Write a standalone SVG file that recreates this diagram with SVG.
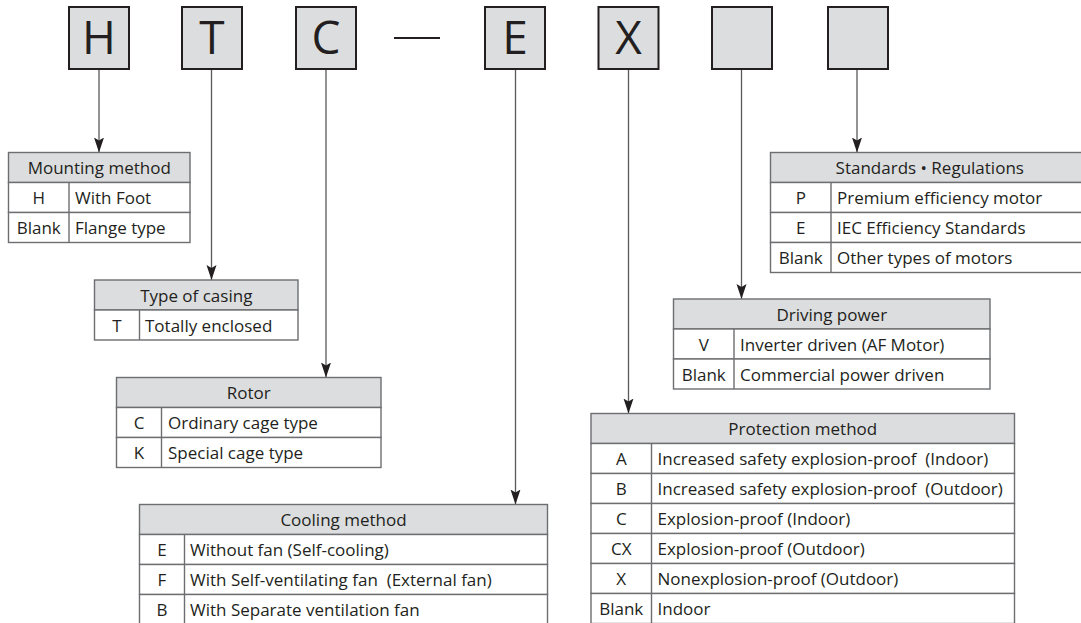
<svg xmlns="http://www.w3.org/2000/svg" width="1081" height="623" viewBox="0 0 1081 623">
<style>
text{font-family:"Open Sans","Noto Sans","Liberation Sans",sans-serif;fill:#231f20;font-size:17px}
.big{font-size:46px;text-anchor:middle}
.c{text-anchor:middle}
.pre{white-space:pre}
.box{fill:#dcdddf;stroke:#231f20;stroke-width:2}
.hdr{fill:#dcdddf;stroke:#6d6e71;stroke-width:1.4}
.row{fill:#ffffff;stroke:#6d6e71;stroke-width:1.4}
.div{stroke:#6d6e71;stroke-width:1.4}
.con{stroke:#58595b;stroke-width:1.3;fill:none;marker-end:url(#arr)}
</style>
<defs>
<marker id="arr" markerUnits="userSpaceOnUse" viewBox="0 -6 15 12" refX="15" refY="0" markerWidth="15" markerHeight="12" orient="auto">
<path d="M0,-5 L15,0 L0,5 L3,0 Z" fill="#231f20"/>
</marker>
</defs>
<rect width="1081" height="623" fill="#ffffff"/>

<g id="code">
<g id="box-H"><rect class="box" x="69" y="7" width="60" height="62"/><text class="big" x="99" y="54">H</text></g>
<g id="box-T"><rect class="box" x="182" y="7" width="60" height="62"/><text class="big" x="212" y="54">T</text></g>
<g id="box-C"><rect class="box" x="296" y="7" width="60" height="62"/><text class="big" x="326" y="54">C</text></g>
<line id="dash" x1="394" y1="38" x2="440" y2="38" stroke="#231f20" stroke-width="2"/>
<g id="box-E"><rect class="box" x="485" y="7" width="60" height="62"/><text class="big" x="515" y="54">E</text></g>
<g id="box-X"><rect class="box" x="598.5" y="7" width="60" height="62"/><text class="big" x="628.5" y="54">X</text></g>
<g id="box-6"><rect class="box" x="712" y="7" width="60" height="62"/></g>
<g id="box-7"><rect class="box" x="828" y="7" width="60" height="62"/></g>
</g>

<g id="connectors">
<path class="con" d="M99,70 V152.5"/>
<path class="con" d="M211.5,70 V280"/>
<path class="con" d="M326,70 V377.5"/>
<path class="con" d="M515.5,70 V504.5"/>
<path class="con" d="M628.5,70 V413.5"/>
<path class="con" d="M741.5,70 V299"/>
<path class="con" d="M857,70 V152.5"/>
</g>

<g id="tbl-mounting">
<rect class="hdr" x="8.5" y="152.5" width="181.5" height="30"/>
<rect class="row" x="8.5" y="182.5" width="181.5" height="30"/>
<rect class="row" x="8.5" y="212.5" width="181.5" height="30"/>
<line class="div" x1="69" y1="182.5" x2="69" y2="242.5"/>
<text class="c" x="99.25" y="174">Mounting method</text>
<text class="c" x="38.75" y="204">H</text><text x="75" y="204">With Foot</text>
<text class="c" x="38.75" y="234">Blank</text><text x="75" y="234">Flange type</text>
</g>

<g id="tbl-casing">
<rect class="hdr" x="94.5" y="280" width="203.5" height="30"/>
<rect class="row" x="94.5" y="310" width="203.5" height="30"/>
<line class="div" x1="139.5" y1="310" x2="139.5" y2="340"/>
<text class="c" x="196.25" y="301.5">Type of casing</text>
<text class="c" x="117" y="331.5">T</text><text x="145" y="331.5">Totally enclosed</text>
</g>

<g id="tbl-rotor">
<rect class="hdr" x="116.5" y="377.5" width="264.5" height="30"/>
<rect class="row" x="116.5" y="407.5" width="264.5" height="30"/>
<rect class="row" x="116.5" y="437.5" width="264.5" height="30"/>
<line class="div" x1="161.5" y1="407.5" x2="161.5" y2="467.5"/>
<text class="c" x="248.75" y="399">Rotor</text>
<text class="c" x="139" y="429">C</text><text x="168" y="429">Ordinary cage type</text>
<text class="c" x="139" y="459">K</text><text x="168" y="459">Special cage type</text>
</g>

<g id="tbl-cooling">
<rect class="hdr" x="139.5" y="504.5" width="408" height="30"/>
<rect class="row" x="139.5" y="534.5" width="408" height="30"/>
<rect class="row" x="139.5" y="564.5" width="408" height="30"/>
<rect class="row" x="139.5" y="594.5" width="408" height="30"/>
<line class="div" x1="184.5" y1="534.5" x2="184.5" y2="624.5"/>
<text class="c" x="343.5" y="526">Cooling method</text>
<text class="c" x="162" y="556">E</text><text x="190" y="556">Without fan (Self-cooling)</text>
<text class="c" x="162" y="586">F</text><text class="pre" x="190" y="586" xml:space="preserve">With Self-ventilating fan  (External fan)</text>
<text class="c" x="162" y="616">B</text><text x="190" y="616">With Separate ventilation fan</text>
</g>

<g id="tbl-protection">
<rect class="hdr" x="591" y="413.5" width="423.5" height="30"/>
<rect class="row" x="591" y="443.5" width="423.5" height="30"/>
<rect class="row" x="591" y="473.5" width="423.5" height="30"/>
<rect class="row" x="591" y="503.5" width="423.5" height="30"/>
<rect class="row" x="591" y="533.5" width="423.5" height="30"/>
<rect class="row" x="591" y="563.5" width="423.5" height="30"/>
<rect class="row" x="591" y="593.5" width="423.5" height="30"/>
<line class="div" x1="651.5" y1="443.5" x2="651.5" y2="623.5"/>
<text class="c" x="802.75" y="435">Protection method</text>
<text class="c" x="621.25" y="465">A</text><text class="pre" x="657.5" y="465" xml:space="preserve">Increased safety explosion-proof  (Indoor)</text>
<text class="c" x="621.25" y="495">B</text><text class="pre" x="657.5" y="495" xml:space="preserve">Increased safety explosion-proof  (Outdoor)</text>
<text class="c" x="621.25" y="525">C</text><text x="657.5" y="525">Explosion-proof (Indoor)</text>
<text class="c" x="621.25" y="555">CX</text><text x="657.5" y="555">Explosion-proof (Outdoor)</text>
<text class="c" x="621.25" y="585">X</text><text x="657.5" y="585">Nonexplosion-proof (Outdoor)</text>
<text class="c" x="621.25" y="615">Blank</text><text x="657.5" y="615">Indoor</text>
</g>

<g id="tbl-driving">
<rect class="hdr" x="673.5" y="299" width="316.5" height="30"/>
<rect class="row" x="673.5" y="329" width="316.5" height="30"/>
<rect class="row" x="673.5" y="359" width="316.5" height="30"/>
<line class="div" x1="734" y1="329" x2="734" y2="389"/>
<text class="c" x="831.75" y="320.5">Driving power</text>
<text class="c" x="703.75" y="350.5">V</text><text x="740" y="350.5">Inverter driven (AF Motor)</text>
<text class="c" x="703.75" y="380.5">Blank</text><text x="740" y="380.5">Commercial power driven</text>
</g>

<g id="tbl-standards">
<rect class="hdr" x="770.5" y="152.5" width="318.5" height="30"/>
<rect class="row" x="770.5" y="182.5" width="318.5" height="30"/>
<rect class="row" x="770.5" y="212.5" width="318.5" height="30"/>
<rect class="row" x="770.5" y="242.5" width="318.5" height="30"/>
<line class="div" x1="831" y1="182.5" x2="831" y2="272.5"/>
<text class="c" x="929.75" y="174">Standards • Regulations</text>
<text class="c" x="800.75" y="204">P</text><text x="837" y="204">Premium efficiency motor</text>
<text class="c" x="800.75" y="234">E</text><text x="837" y="234">IEC Efficiency Standards</text>
<text class="c" x="800.75" y="264">Blank</text><text x="837" y="264">Other types of motors</text>
</g>
</svg>
